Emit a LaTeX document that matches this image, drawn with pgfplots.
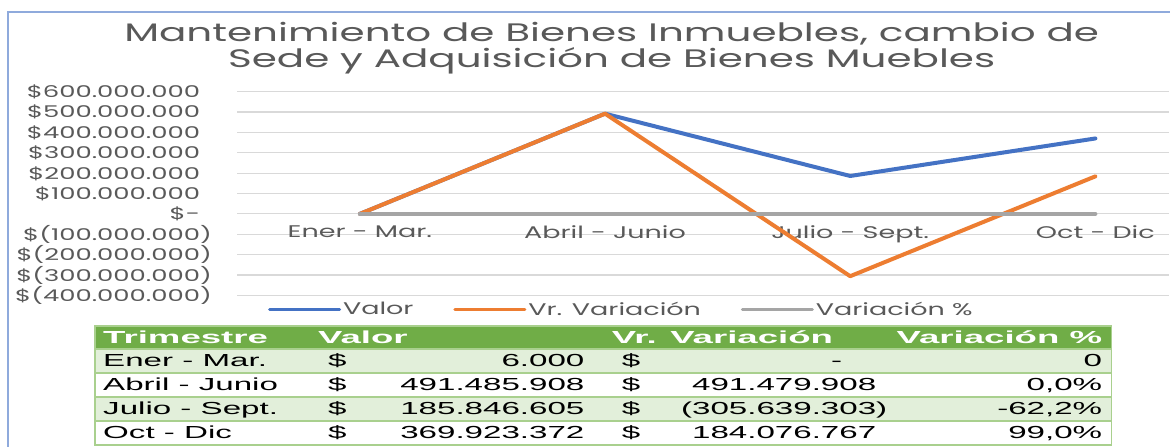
\documentclass[border=0pt]{standalone}
\usepackage{fontspec}
\usepackage{pgfplots}
\usepackage{pgfplotstable}
\pgfplotsset{compat=1.18}

\newfontfamily\gothic[FakeStretch=1.6]{Poppins}
\newfontfamily\tabfont[FakeStretch=1.9]{Liberation Sans}
\newfontfamily\tabhead[FakeStretch=2.1]{Liberation Sans}

\definecolor{serblue}{HTML}{4472C4}
\definecolor{serorange}{HTML}{ED7D31}
\definecolor{sergray}{HTML}{A5A5A5}
\definecolor{gridgray}{HTML}{D9D9D9}
\definecolor{txtgray}{HTML}{595959}
\definecolor{framebl}{HTML}{8FAADC}
\definecolor{hdrgreen}{HTML}{70AD47}
\definecolor{rowgreen}{HTML}{E2EFDA}
\definecolor{bordgreen}{HTML}{A9D08E}

% trimestre, valor, variacion en pesos, variacion %
\pgfplotstableread{
q valor var pct
0 6000 0 0
1 491485908 491479908 0
2 185846605 -305639303 -0.622
3 369923372 184076767 0.99
}\datatable

\begin{document}
\begin{tikzpicture}
% 1 px of the reference = 0.25mm
\begin{scope}[x=0.25mm,y=-0.25mm]
\useasboundingbox (0,0) rectangle (1170,447);
\fill[white] (0,0) rectangle (1170,447);
\draw[framebl, line width=0.4mm] (8,447) -- (8,12) -- (1172,12);
\node[text=txtgray, font=\gothic\fontsize{18pt}{20pt}\selectfont, inner sep=0pt, anchor=base]
  at (612,42) {Mantenimiento de Bienes Inmuebles, cambio de};
\node[text=txtgray, font=\gothic\fontsize{18pt}{20pt}\selectfont, inner sep=0pt, anchor=base]
  at (612,68) {Sede y Adquisición de Bienes Muebles};
\end{scope}

\begin{axis}[
  at={(59.35mm,-73.9mm)}, anchor=south west,
  scale only axis, width=233.15mm, height=51mm,
  xmin=-0.5, xmax=3.302, ymin=-400000000, ymax=600000000,
  axis x line*=middle, axis y line*=left,
  axis line style={draw=none},
  hide obscured x ticks=false, hide obscured y ticks=false,
  major tick length=0pt,
  xtick={0,1,2,3},
  xticklabels={Ener - Mar., Abril - Junio, Julio - Sept., Oct - Dic},
  xticklabel style={font=\gothic\fontsize{12pt}{14pt}\selectfont, text=txtgray, anchor=north, inner sep=0pt, yshift=-3mm},
  ytick={-400000000,-300000000,-200000000,-100000000,0,100000000,200000000,300000000,400000000,500000000,600000000},
  yticklabels={\$(400.000.000),\$(300.000.000),\$(200.000.000),\$(100.000.000),\$-\phantom{)},
    \$100.000.000\phantom{)},\$200.000.000\phantom{)},\$300.000.000\phantom{)},\$400.000.000\phantom{)},\$500.000.000\phantom{)},\$600.000.000\phantom{)}},
  yticklabel style={font=\gothic\fontsize{11.5pt}{13pt}\selectfont, text=txtgray, anchor=east, inner sep=0pt, xshift=-6.3mm},
  scaled y ticks=false,
  ymajorgrids,
  grid style={gridgray, line width=0.3mm},
  legend columns=3,
  legend style={at={(axis description cs:0.412,-0.07)}, anchor=center, draw=none, fill=none,
    font=\gothic\fontsize{12pt}{14pt}\selectfont, text=txtgray,
    nodes={inner sep=0.5mm},
    /tikz/every even column/.append style={column sep=9.5mm}},
  legend image code/.code={\draw[#1, line width=0.75mm] (0mm,0mm) -- (17.5mm,0mm);},
  every axis plot/.append style={line width=1mm, line join=round, line cap=round, mark=none},
]
\addplot[serblue] table[x=q, y=valor] {\datatable};
\addlegendentry{Valor}
\addplot[serorange] table[x=q, y=var] {\datatable};
\addlegendentry{Vr. Variación}
\addplot[sergray] table[x=q, y=pct] {\datatable};
\addlegendentry{Variación \%}
\end{axis}

\begin{scope}[x=0.25mm,y=-0.25mm]
% tabla de datos
\fill[hdrgreen] (95,326) rectangle (1112,349);
\fill[rowgreen] (95,349) rectangle (1112,373);
\fill[white] (95,373) rectangle (1112,397);
\fill[rowgreen] (95,397) rectangle (1112,421);
\fill[white] (95,421) rectangle (1112,445);
\draw[bordgreen, line width=0.375mm] (95,326) rectangle (1112,445);
\foreach \yy in {349,373,397,421} \draw[bordgreen, line width=0.375mm] (95,\yy) -- (1112,\yy);

\begin{scope}[every node/.style={inner sep=0pt, font=\tabfont\fontsize{12.4pt}{14pt}\selectfont}]
\tikzset{hdr/.style={text=white, font=\tabhead\bfseries\fontsize{12.4pt}{14pt}\selectfont}}
\node[anchor=base west, hdr] at (103,344) {Trimestre};
\node[anchor=base west, hdr] at (318,344) {Valor};
\node[anchor=base west, hdr] at (612,344) {Vr. Variación};
\node[anchor=base east, hdr] at (1103,344) {Variación \%};

\node[anchor=base west] at (103,367) {Ener - Mar.};
\node[anchor=base west] at (103,391) {Abril - Junio};
\node[anchor=base west] at (103,415) {Julio - Sept.};
\node[anchor=base west] at (103,439) {Oct - Dic};

\foreach \yy in {367,391,415,439} {
  \node[anchor=base west] at (328,\yy) {\$};
  \node[anchor=base west] at (622,\yy) {\$};
}
\node[anchor=base east] at (585,367) {6.000};
\node[anchor=base east] at (585,391) {491.485.908};
\node[anchor=base east] at (585,415) {185.846.605};
\node[anchor=base east] at (585,439) {369.923.372};

\node[anchor=base] at (837,367) {-};
\node[anchor=base east] at (888,391) {491.479.908\phantom{)}};
\node[anchor=base east] at (888,415) {(305.639.303)};
\node[anchor=base east] at (888,439) {184.076.767\phantom{)}};

\node[anchor=base east] at (1103,367) {0};
\node[anchor=base east] at (1103,391) {0,0\%};
\node[anchor=base east] at (1103,415) {-62,2\%};
\node[anchor=base east] at (1103,439) {99,0\%};
\end{scope}
\end{scope}
\end{tikzpicture}
\end{document}
